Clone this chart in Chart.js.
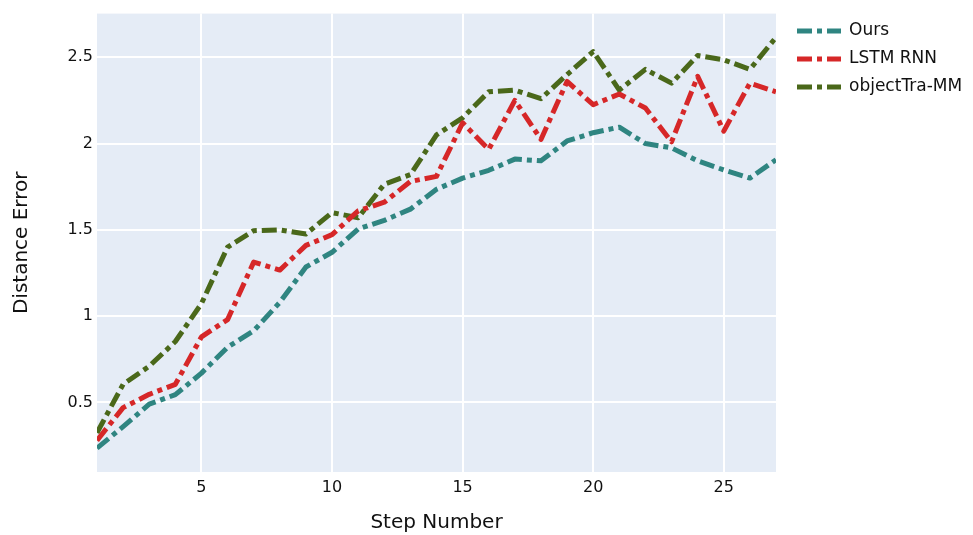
<!DOCTYPE html>
<html>
<head>
<meta charset="utf-8">
<script src="https://cdn.jsdelivr.net/npm/chart.js@4.4.0/dist/chart.umd.min.js"></script>
<style>
  body { margin: 0; background: #fff; }
  #wrap { width: 973px; height: 535px; position: relative; }
</style>
</head>
<body>
<div id="wrap"><canvas id="chart"></canvas></div>
<script>
// data
const steps = [1, 2, 3, 4, 5, 6, 7, 8, 9, 10, 11, 12, 13, 14, 15, 16, 17, 18, 19, 20, 21, 22, 23, 24, 25, 26, 27]
const ours = [0.235, 0.36, 0.49, 0.545, 0.67, 0.82, 0.915, 1.08, 1.285, 1.37, 1.505, 1.555, 1.62, 1.735, 1.80, 1.845, 1.91, 1.90, 2.015, 2.063, 2.095, 2.0, 1.975, 1.90, 1.847, 1.80, 1.906]
const lstmRnn = [0.28, 0.47, 0.547, 0.605, 0.88, 0.98, 1.313, 1.267, 1.41, 1.472, 1.61, 1.66, 1.78, 1.81, 2.12, 1.966, 2.25, 2.024, 2.36, 2.225, 2.287, 2.206, 2.01, 2.389, 2.072, 2.35, 2.30]
const objectTraMM = [0.324, 0.605, 0.71, 0.853, 1.073, 1.40, 1.495, 1.50, 1.476, 1.60, 1.57, 1.764, 1.82, 2.05, 2.149, 2.30, 2.31, 2.26, 2.40, 2.533, 2.31, 2.43, 2.35, 2.51, 2.485, 2.43, 2.615]

const seriesNames = ["Ours", "LSTM RNN", "objectTra-MM"]
const seriesColors = ["rgb(47,133,129)", "rgb(214,39,40)", "rgb(74,104,26)"]

const xTicks = [5, 10, 15, 20, 25]
const yTicks = [0.5, 1, 1.5, 2, 2.5]
const yTickLabels = ["0.5", "1", "1.5", "2", "2.5"]

const xTitle = "Step Number"
const yTitle = "Distance Error"

const dashPattern = [15, 5, 5, 5]
const fontFamily = "'DejaVu Sans', Verdana, sans-serif"
const textColor = "#111"

function makeDataset(label, values, color) {
    return {
        label: label,
        data: steps.map((x, i) => ({x: x, y: values[i]})),
        borderColor: color,
        backgroundColor: color,
        borderWidth: 5,
        borderDash: dashPattern,
        borderCapStyle: "butt",
        borderJoinStyle: "round",
        pointRadius: 0,
        tension: 0,
        fill: false
    }
}

const plotBackground = {
    id: "plotBackground",
    beforeDraw(chart) {
        const {ctx, chartArea} = chart
        ctx.save()
        ctx.fillStyle = "#E5ECF6"
        ctx.fillRect(chartArea.left, chartArea.top, chartArea.right - chartArea.left, chartArea.bottom - chartArea.top)
        ctx.restore()
    }
}

const sideLegend = {
    id: "sideLegend",
    afterDraw(chart) {
        const ctx = chart.ctx
        const x0 = chart.chartArea.right + 21
        ctx.save()
        chart.data.datasets.forEach((ds, i) => {
            const y = 31 + 28 * i
            ctx.beginPath()
            ctx.setLineDash(dashPattern)
            ctx.lineWidth = 5
            ctx.lineCap = "butt"
            ctx.strokeStyle = ds.borderColor
            ctx.moveTo(x0, y)
            ctx.lineTo(x0 + 44, y)
            ctx.stroke()
            ctx.setLineDash([])
            ctx.fillStyle = textColor
            ctx.font = "17px " + fontFamily
            ctx.textBaseline = "middle"
            ctx.textAlign = "left"
            ctx.fillText(ds.label, x0 + 52, y)
        })
        ctx.restore()
    }
}

new Chart(document.getElementById("chart").getContext("2d"), {
    type: "line",
    data: {
        datasets: [
            makeDataset(seriesNames[0], ours, seriesColors[0]),
            makeDataset(seriesNames[1], lstmRnn, seriesColors[1]),
            makeDataset(seriesNames[2], objectTraMM, seriesColors[2])
        ]
    },
    options: {
        responsive: true,
        maintainAspectRatio: false,
        animation: false,
        layout: {padding: {left: 0, right: 197, top: 10, bottom: 0}},
        plugins: {
            legend: {display: false},
            tooltip: {enabled: false}
        },
        scales: {
            x: {
                type: "linear",
                min: 1,
                max: 27,
                afterBuildTicks: scale => { scale.ticks = xTicks.map(v => ({value: v})) },
                afterFit: scale => { scale.height = 63 },
                grid: {color: "#fff", lineWidth: 2, drawTicks: false},
                border: {display: false},
                ticks: {
                    padding: 6,
                    color: textColor,
                    font: {family: fontFamily, size: 16},
                    maxRotation: 0,
                    callback: v => String(v)
                },
                title: {
                    display: true,
                    text: xTitle,
                    color: textColor,
                    font: {family: fontFamily, size: 20},
                    padding: {top: 0, bottom: 0}
                }
            },
            y: {
                type: "linear",
                min: 0.097,
                max: 2.753,
                afterBuildTicks: scale => { scale.ticks = yTicks.map(v => ({value: v})) },
                afterFit: scale => { scale.width = 97 },
                grid: {color: "#fff", lineWidth: 2, drawTicks: false},
                border: {display: false},
                ticks: {
                    padding: 4,
                    color: textColor,
                    font: {family: fontFamily, size: 16},
                    callback: v => yTickLabels[yTicks.indexOf(v)] ?? ""
                },
                title: {
                    display: true,
                    text: yTitle,
                    color: textColor,
                    font: {family: fontFamily, size: 20},
                    padding: {top: 10, bottom: 0}
                }
            }
        }
    },
    plugins: [plotBackground, sideLegend]
})
</script>
</body>
</html>
